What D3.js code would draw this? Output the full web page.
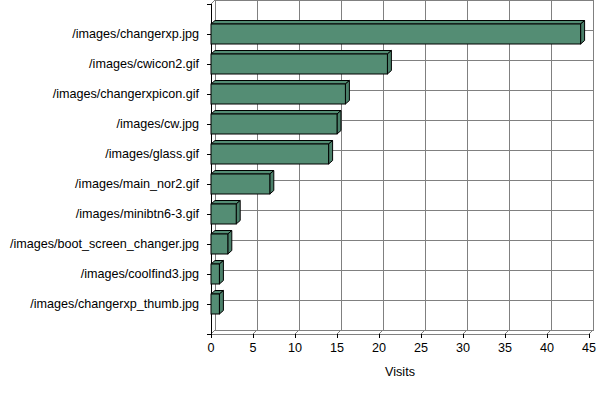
<!DOCTYPE html>
<html>
<head>
<meta charset="utf-8">
<script src="https://cdn.jsdelivr.net/npm/d3@7"></script>
<style>
  body { margin: 0; background: #fff; }
  text { font-family: "Liberation Sans", Arial, sans-serif; font-size: 12.6px; fill: #000; }
</style>
</head>
<body>
<script>
// data
let categories = [
  "/images/changerxp.jpg",
  "/images/cwicon2.gif",
  "/images/changerxpicon.gif",
  "/images/cw.jpg",
  "/images/glass.gif",
  "/images/main_nor2.gif",
  "/images/minibtn6-3.gif",
  "/images/boot_screen_changer.jpg",
  "/images/coolfind3.jpg",
  "/images/changerxp_thumb.jpg"
];
let visits = [44, 21, 16, 15, 14, 7, 3, 2, 1, 1];
let xTicks = [0, 5, 10, 15, 20, 25, 30, 35, 40, 45];

let width = 600;
let height = 394;
let depth = 4; // versatz der rueckwand
let barH = 20;
let barD = 3.5;
let barColor = "#548d74";

let svg = d3.select("body").append("svg")
  .attr("width", width)
  .attr("height", height);

let x = d3.scaleLinear().domain([0, 45]).range([211, 589]);
let y = d3.scalePoint().domain(categories).range([34, 304]);
let step = y.step();
let yTop = y(categories[0]) - step;
let yBottom = y(categories[categories.length - 1]) + step;

let walls = svg.append("g").attr("stroke", "#808080").attr("fill", "none").attr("shape-rendering", "crispEdges");

// rueckwand
walls.append("rect")
  .attr("x", x(0) + depth)
  .attr("y", yTop - depth)
  .attr("width", x(45) - x(0))
  .attr("height", yBottom - yTop);

// horizontale gitterlinien
walls.selectAll(".hgrid")
  .data(categories)
  .enter()
  .append("line")
  .attr("x1", x(0) + depth)
  .attr("x2", x(45) + depth)
  .attr("y1", (d) => y(d) - depth)
  .attr("y2", (d) => y(d) - depth);

// vertikale gitterlinien
walls.selectAll(".vgrid")
  .data(xTicks)
  .enter()
  .append("line")
  .attr("x1", (d) => x(d) + depth)
  .attr("x2", (d) => x(d) + depth)
  .attr("y1", yTop - depth)
  .attr("y2", yBottom - depth);

// boden
walls.append("line")
  .attr("x1", x(0)).attr("x2", x(45))
  .attr("y1", yBottom).attr("y2", yBottom);

let diag = svg.append("g").attr("stroke", "#808080").attr("fill", "none");
diag.selectAll("line")
  .data(xTicks)
  .enter()
  .append("line")
  .attr("x1", (d) => x(d))
  .attr("y1", yBottom)
  .attr("x2", (d) => x(d) + depth)
  .attr("y2", yBottom - depth);
diag.append("line")
  .attr("x1", x(0)).attr("y1", yTop)
  .attr("x2", x(0) + depth).attr("y2", yTop - depth);

// x-achse
let xAxis = svg.append("g").attr("shape-rendering", "crispEdges");
xAxis.selectAll("line")
  .data(xTicks)
  .enter()
  .append("line")
  .attr("x1", (d) => x(d))
  .attr("x2", (d) => x(d))
  .attr("y1", yBottom)
  .attr("y2", yBottom + 4)
  .attr("stroke", "#000");
xAxis.selectAll("text")
  .data(xTicks)
  .enter()
  .append("text")
  .attr("x", (d) => x(d))
  .attr("y", yBottom + 18)
  .attr("text-anchor", "middle")
  .text((d) => d);

svg.append("text")
  .attr("x", (x(0) + x(45)) / 2)
  .attr("y", 376)
  .attr("text-anchor", "middle")
  .text("Visits");

// y-achse
let yAxis = svg.append("g").attr("shape-rendering", "crispEdges");
yAxis.append("line")
  .attr("x1", x(0)).attr("x2", x(0))
  .attr("y1", yTop).attr("y2", yBottom)
  .attr("stroke", "#000");
yAxis.selectAll(".tick")
  .data([yTop].concat(categories.map((d) => y(d)), [yBottom]))
  .enter()
  .append("line")
  .attr("x1", x(0) - 4)
  .attr("x2", x(0))
  .attr("y1", (d) => d)
  .attr("y2", (d) => d)
  .attr("stroke", "#000");
yAxis.selectAll("text")
  .data(categories)
  .enter()
  .append("text")
  .attr("x", 199)
  .attr("y", (d) => y(d))
  .attr("dy", "0.35em")
  .attr("text-anchor", "end")
  .text((d) => d);

// balken
let bars = svg.selectAll(".bar")
  .data(categories.map((c, i) => ({ name: c, value: visits[i] })))
  .enter()
  .append("g")
  .attr("class", "bar")
  .attr("fill", barColor)
  .attr("stroke", "#000")
  .attr("stroke-linejoin", "miter");

bars.append("path")
  .attr("d", function (d) {
    let x0 = x(0), x1 = x(d.value), y0 = y(d.name) - barH / 2;
    return "M" + x0 + "," + y0 + "L" + (x0 + depth) + "," + (y0 - barD) +
      "L" + (x1 + depth) + "," + (y0 - barD) + "L" + x1 + "," + y0 + "Z";
  });

bars.append("path")
  .attr("fill", "#4b806a")
  .attr("d", function (d) {
    let x1 = x(d.value), y0 = y(d.name) - barH / 2;
    return "M" + x1 + "," + y0 + "L" + (x1 + depth) + "," + (y0 - barD) +
      "L" + (x1 + depth) + "," + (y0 - barD + barH) + "L" + x1 + "," + (y0 + barH) + "Z";
  });

bars.append("rect")
  .attr("x", x(0))
  .attr("y", (d) => y(d.name) - barH / 2)
  .attr("width", (d) => x(d.value) - x(0))
  .attr("height", barH);
</script>
</body>
</html>
